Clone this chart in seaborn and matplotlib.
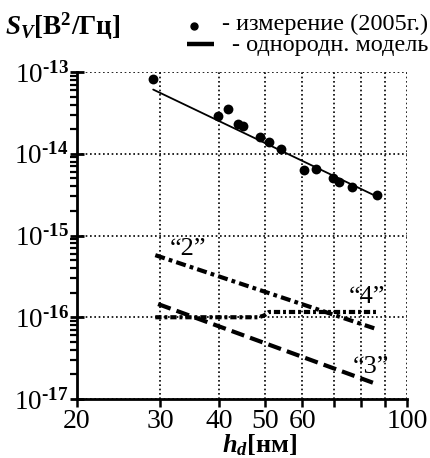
import numpy as np
import pandas as pd
import matplotlib
matplotlib.use("Agg")
import matplotlib.pyplot as plt
from matplotlib.lines import Line2D
from matplotlib.ticker import FixedLocator, FixedFormatter, NullFormatter, LogLocator
import seaborn as sns

# measured points (2005)
meas_h = [29.0, 39.8, 41.7, 43.9, 45.0, 48.9, 51.0, 54.1, 60.6, 64.1, 69.6, 71.7, 76.4, 86.3]
meas_s = [8.1e-14, 2.9e-14, 3.5e-14, 2.3e-14, 2.2e-14, 1.6e-14, 1.4e-14, 1.15e-14,
          6.4e-15, 6.6e-15, 5.0e-15, 4.5e-15, 3.9e-15, 3.1e-15]

# homogeneous model
model_h = [29.0, 86.3]
model_s = [6.1e-14, 3.0e-15]

# curve "2"
c2_h = [29.3, 50.0, 86.3]
c2_s = [5.75e-16, 2.05e-16, 7.15e-17]

# curve "3"
c3_h = [29.7, 86.3]
c3_s = [1.45e-16, 1.52e-17]

# curve "4"
c4_h = [29.3, 48.5, 49.8, 51.0, 86.3]
c4_s = [1.0e-16, 1.0e-16, 1.05e-16, 1.16e-16, 1.16e-16]

x_ticks = [20, 30, 40, 50, 60, 70, 80, 90, 100]
x_labels = ["20", "30", "40", "50", "60", "", "", "", "100"]
y_ticks = [1e-17, 1e-16, 1e-15, 1e-14, 1e-13]
y_labels = [r"$\mathregular{10}^{\mathbf{‐17}}$", r"$\mathregular{10}^{\mathbf{‐16}}$",
            r"$\mathregular{10}^{\mathbf{‐15}}$", r"$\mathregular{10}^{\mathbf{‐14}}$",
            r"$\mathregular{10}^{\mathbf{‐13}}$"]

sns.set_theme(style="white")
plt.rcParams["font.family"] = ["Liberation Serif", "DejaVu Serif"]
plt.rcParams["mathtext.fontset"] = "custom"
plt.rcParams["mathtext.rm"] = "Liberation Serif"
plt.rcParams["mathtext.it"] = "Liberation Serif:italic"
plt.rcParams["mathtext.bf"] = "Liberation Serif:bold"
plt.rcParams["mathtext.bfit"] = "Liberation Serif:bold:italic"

fig = plt.figure(figsize=(4.30, 4.58), dpi=100)
ax = fig.add_axes([77 / 430, 59 / 458, 330 / 430, 327 / 458])

sns.scatterplot(x=meas_h, y=meas_s, ax=ax, color="black", s=50, edgecolor="black",
                linewidth=0, zorder=5)
sns.lineplot(x=model_h, y=model_s, ax=ax, color="black", lw=1.3, zorder=4)
sns.lineplot(x=c2_h, y=c2_s, ax=ax, color="black", lw=3, linestyle=(0, (2.4, 1.0, 0.9, 1.0)),
             zorder=4)
sns.lineplot(x=c3_h, y=c3_s, ax=ax, color="black", lw=3, linestyle=(0, (3.2, 1.5)), zorder=4)
sns.lineplot(x=c4_h, y=c4_s, ax=ax, color="black", lw=3,
             linestyle=(0, (1.5, 0.7, 0.7, 0.7)), zorder=4)

ax.set_xscale("log")
ax.set_yscale("log")
ax.set_xlim(20, 100)
ax.set_ylim(1e-17, 1e-13)

ax.xaxis.set_major_locator(FixedLocator(x_ticks))
ax.xaxis.set_major_formatter(FixedFormatter(x_labels))
ax.xaxis.set_minor_formatter(NullFormatter())
ax.xaxis.set_minor_locator(FixedLocator([]))
ax.yaxis.set_major_locator(FixedLocator(y_ticks))
ax.yaxis.set_major_formatter(FixedFormatter(y_labels))
ax.yaxis.set_minor_locator(LogLocator(base=10, subs=np.arange(2, 10)))
ax.yaxis.set_minor_formatter(NullFormatter())

ax.tick_params(axis="x", which="major", direction="out", length=6, width=1.8,
               labelsize=20, pad=1, color="black", labelcolor="black", bottom=True)
ax.tick_params(axis="y", which="major", direction="inout", length=10, width=2,
               labelsize=19.5, pad=1, color="black", labelcolor="black", left=True)
ax.tick_params(axis="y", which="minor", direction="out", length=5, width=1.6,
               color="black", left=True)

for side in ["top", "right"]:
    ax.spines[side].set_visible(False)
for side in ["left", "bottom"]:
    ax.spines[side].set_color("black")
    ax.spines[side].set_linewidth(2)

ax.grid(True, which="major", color="black", linestyle=(0, (1, 1.6)), linewidth=1.2)
ax.set_axisbelow(True)
ax.set_xlabel("")
ax.set_ylabel("")

# curve labels
ax.text(0.336, 0.44, "\u201c2\u201d", transform=ax.transAxes, fontsize=19,
        ha="center", va="baseline", color="black")
ax.text(0.879, 0.294, "\u201c4\u201d", transform=ax.transAxes, fontsize=19,
        ha="center", va="baseline", color="black")
ax.text(0.891, 0.08, "\u201c3\u201d", transform=ax.transAxes, fontsize=19,
        ha="center", va="baseline", color="black")

# axis titles
fig.text(5 / 430, 1 - 35 / 458, r"$\mathbfit{S}_{\mathbfit{V}}\mathbf{[B}^{\mathbf{2}}\mathbf{/Гц]}$",
         fontsize=19.5, ha="left", va="baseline", color="black")
fig.text(260 / 430, 1 - 452 / 458, r"$\mathbfit{h}_{\mathbfit{d}}\mathbf{[нм]}$",
         fontsize=19, ha="center", va="baseline", color="black")

# legend
fig.text(428 / 430, 1 - 30 / 458, "- измерение (2005г.)", fontsize=17.5,
         ha="right", va="baseline", color="black")
fig.text(428 / 430, 1 - 51 / 458, "- однородн. модель", fontsize=17.5,
         ha="right", va="baseline", color="black")
fig.add_artist(Line2D([194 / 430], [1 - 26 / 458], marker="o", markersize=5,
                      color="black", transform=fig.transFigure))
fig.add_artist(Line2D([187 / 430, 214 / 430], [1 - 44 / 458, 1 - 44 / 458], lw=3.2,
                      color="black", transform=fig.transFigure, solid_capstyle="butt"))

fig.savefig("out.png", dpi=100)
